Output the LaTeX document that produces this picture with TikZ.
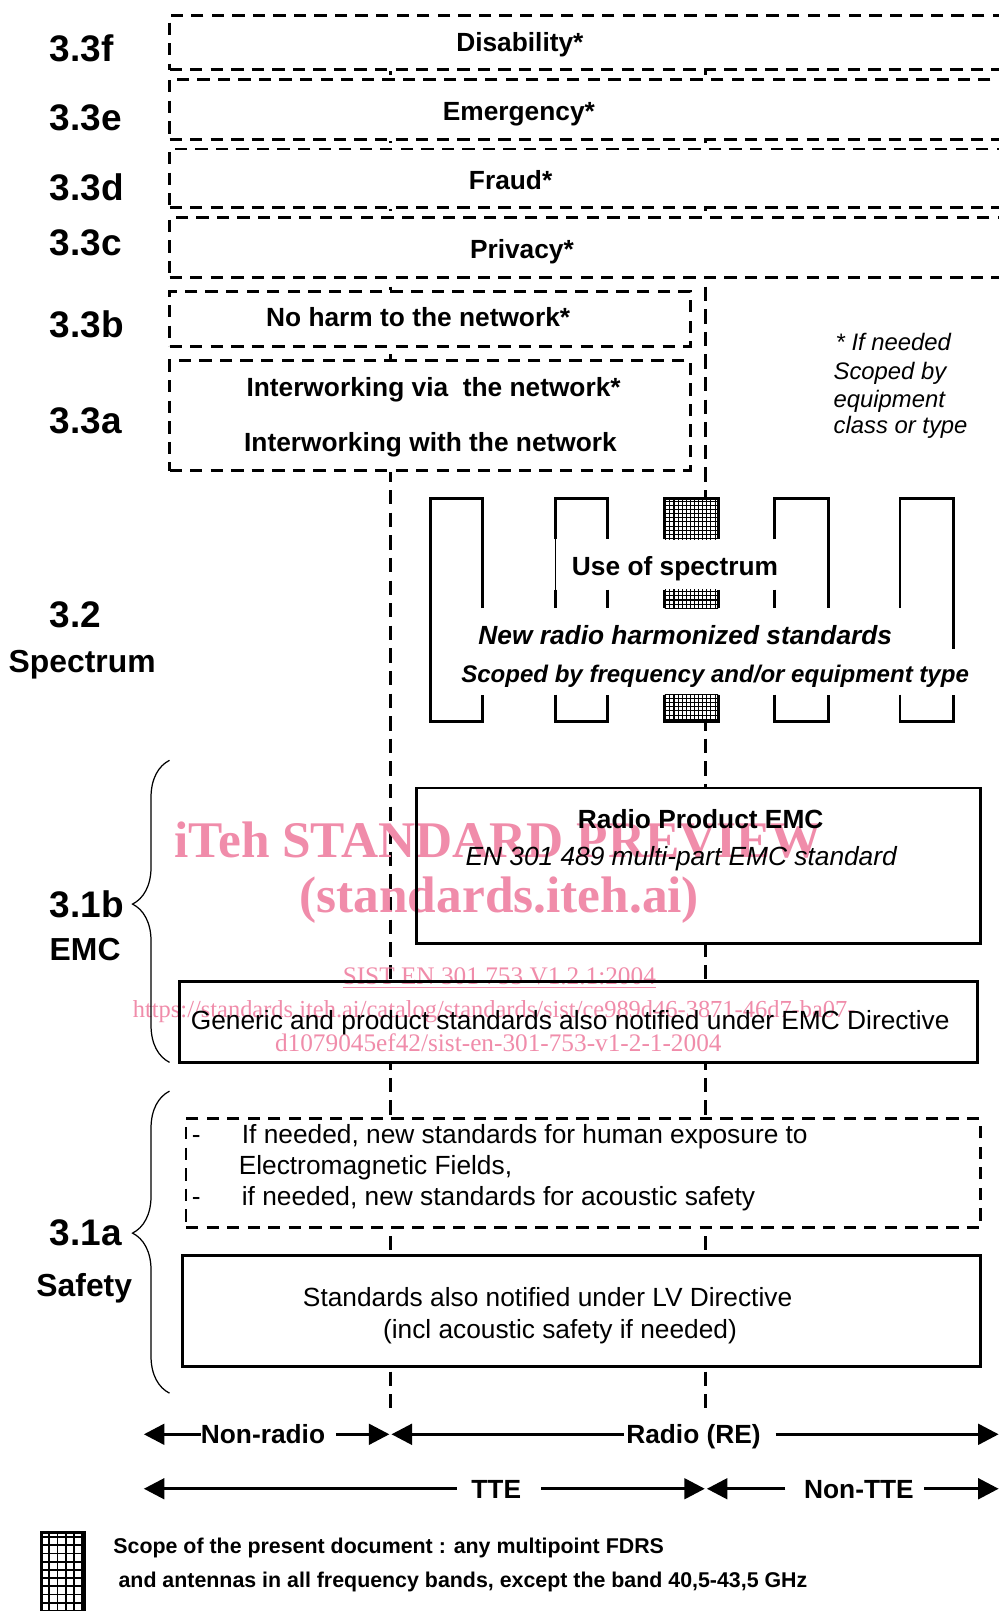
\documentclass[tikz,border=0pt]{standalone}
\usepackage{fontspec}
\setmainfont{Liberation Sans}
\newfontfamily\wmfont{Liberation Serif}
\usetikzlibrary{arrows.meta,decorations.pathreplacing,fit,patterns}
\definecolor{wmpink}{RGB}{240,140,170}
\pgfdeclarelayer{vlines}
\pgfdeclarelayer{fills}
\pgfdeclarelayer{wmark}
\pgfsetlayers{vlines,fills,wmark,main}
\pgfdeclarepatternformonly{fgrid}{\pgfqpoint{-1pt}{-1pt}}{\pgfqpoint{3pt}{3pt}}{\pgfqpoint{2pt}{2pt}}{%
  \pgfsetlinewidth{0.5pt}%
  \pgfpathmoveto{\pgfqpoint{0pt}{0pt}}\pgfpathlineto{\pgfqpoint{0pt}{2.1pt}}%
  \pgfpathmoveto{\pgfqpoint{0pt}{0pt}}\pgfpathlineto{\pgfqpoint{2.1pt}{0pt}}%
  \pgfusepath{stroke}}
\pgfdeclarepatternformonly{cgrid}{\pgfqpoint{-1pt}{-1pt}}{\pgfqpoint{5pt}{5pt}}{\pgfqpoint{4pt}{4pt}}{%
  \pgfsetlinewidth{0.9pt}%
  \pgfpathmoveto{\pgfqpoint{0pt}{0pt}}\pgfpathlineto{\pgfqpoint{0pt}{4.1pt}}%
  \pgfpathmoveto{\pgfqpoint{0pt}{0pt}}\pgfpathlineto{\pgfqpoint{4.1pt}{0pt}}%
  \pgfusepath{stroke}}
\tikzset{
  dbox/.style={draw, line width=1.4pt, dash pattern=on 6pt off 4pt, inner sep=0pt},
  sbox/.style={draw, line width=1.4pt, inner sep=0pt},
  vdash/.style={line width=1.4pt, dash pattern=on 7pt off 4pt},
  tooth/.style={line width=1.4pt},
  thin/.style={line width=0.4pt},
  bt/.style={font=\fontsize{12.8}{15}\selectfont\bfseries, inner sep=0pt, text height=9.2pt, text depth=0pt},
  bit/.style={font=\fontsize{12.8}{15}\selectfont\bfseries\itshape, inner sep=0pt, text height=9.2pt, text depth=0pt},
  rt/.style={font=\fontsize{12.8}{15}\selectfont, inner sep=0pt, text height=9.2pt, text depth=0pt},
  it/.style={font=\fontsize{12.8}{15}\selectfont\itshape, inner sep=0pt, text height=9.2pt, text depth=0pt},
  sec/.style={font=\fontsize{18}{20}\selectfont\bfseries, inner sep=0pt, anchor=west},
  secw/.style={font=\fontsize{15.5}{18}\selectfont\bfseries, inner sep=0pt, text height=11.1pt, text depth=0pt},
  note/.style={font=\fontsize{11.6}{14}\selectfont\itshape, inner sep=0pt, anchor=west, text height=8.3pt, text depth=0pt},
  legt/.style={font=\fontsize{10.4}{12}\selectfont\bfseries, inner sep=0pt, anchor=west, text height=7.4pt, text depth=0pt},
  wmbig/.style={text=wmpink, inner sep=0pt, font=\wmfont\fontsize{25}{28}\selectfont\bfseries},
  wmsmall/.style={text=wmpink, inner sep=0pt, font=\wmfont\fontsize{12.3}{14}\selectfont},
  arr/.style={line width=1.6pt, -{Triangle[length=10pt,width=10pt]}},
  brc/.style={decorate, decoration={brace, amplitude=18pt, aspect=#1}, line width=0.6pt},
}
\begin{document}
\begin{tikzpicture}[x=0.5pt,y=-0.5pt]
\useasboundingbox (0,0) rectangle (972,1568);

% ---- section labels
\node[sec] (l33f) at (48,47) {3.3f};
\node[sec] (l33e) at (48,115) {3.3e};
\node[sec] (l33d) at (48,182) {3.3d};
\node[sec] (l33c) at (48,236) {3.3c};
\node[sec] (l33b) at (48,316) {3.3b};
\node[sec] (l33a) at (48,410) {3.3a};
\node[sec] (l32) at (48,598) {3.2};
\node[secw] (lspec) at (80,643) {Spectrum};
\node[sec] (l31b) at (48,880) {3.1b};
\node[secw,anchor=west] (lemc) at (48,924) {EMC};
\node[sec] (l31a) at (48,1200) {3.1a};
\node[secw] (lsaf) at (82,1251) {Safety};

% ---- vertical dashed lines
\coordinate (va1) at (380,15); \coordinate (va2) at (380,1370);
\coordinate (vb1) at (687,15); \coordinate (vb2) at (687,1370);
\begin{pgfonlayer}{vlines}
  \draw[vdash] (va1) -- (va2);
  \draw[vdash] (vb1) -- (vb2);
\end{pgfonlayer}

% ---- top dashed boxes
\node[dbox, fit={(165,15)(995,68)}] (dis) {};
\node[dbox, fit={(165,77)(995,136)}] (emg) {};
\node[dbox, fit={(165,145)(995,202)}] (fra) {};
\node[dbox, fit={(165,212)(995,270)}] (pri) {};
\node[bt] (tdis) at (506,41) {Disability*};
\node[bt] (temg) at (505,108) {Emergency*};
\node[bt] (tfra) at (497,175) {Fraud*};
\node[bt] (tpri) at (508,242) {Privacy*};

\node[dbox, fit={(165,284)(672,337)}] (nh) {};
\node[bt] (tnh) at (407,309) {No harm to the network*};
\node[dbox, fit={(165,351)(672,458)}] (iw) {};
\node[bt] (tiw1) at (422,377) {Interworking via\ \ the network*};
\node[bt] (tiw2) at (419,430) {Interworking with the network};

% ---- side note
\node[note] (n1) at (813,333) {* If needed};
\node[note] (n2) at (811,361) {Scoped by};
\node[note] (n3) at (811,388) {equipment};
\node[note] (n4) at (811,414) {class or type};

% ---- spectrum comb
\draw[tooth] (470,592) -- (470,485) -- (419,485) -- (419,702) -- (470,702) -- (470,676);
\draw[tooth] (541,525) -- (541,485) -- (591,485) -- (591,525);
\draw[thin] (541,525) -- (541,574);
\draw[tooth] (541,574) -- (541,592); \draw[tooth] (591,574) -- (591,592);
\draw[tooth] (541,676) -- (541,702) -- (591,702) -- (591,676);
\fill[pattern=fgrid] (647,485) rectangle (699,525);
\fill[pattern=fgrid] (647,574) rectangle (699,592);
\fill[pattern=fgrid] (647,676) rectangle (699,702);
\draw[tooth] (647,525) -- (647,485) -- (699,485) -- (699,525);
\draw[tooth] (647,574) -- (647,592); \draw[tooth] (699,574) -- (699,592);
\draw[tooth] (647,676) -- (647,702) -- (699,702) -- (699,676);
\draw[tooth] (754,525) -- (754,485) -- (806,485) -- (806,592);
\draw[tooth] (754,574) -- (754,592);
\draw[tooth] (754,676) -- (754,702) -- (806,702) -- (806,676);
\draw[tooth] (876,592) -- (876,485) -- (928,485) -- (928,632);
\draw[tooth] (876,676) -- (876,702) -- (928,702) -- (928,676);
\node[bt] (tuse) at (657,551) {Use of spectrum};
\node[bit] (tnew) at (667,618) {New radio harmonized standards};
\node[bit, font=\fontsize{11.7}{14}\selectfont\bfseries\itshape, text height=8.4pt] (tscp) at (696,656) {Scoped by frequency and/or equipment type};

% ---- EMC
\node[sbox, fit={(405,767)(954,918)}] (rpe) {};
\node[bt] (trpe1) at (682,797) {Radio Product EMC};
\node[it] (trpe2) at (663,833) {EN 301 489 multi-part EMC standard};
\node[sbox, fit={(175,955)(951,1034)}] (gen) {};
\node[rt] (tgen) at (555,993) {Generic and product standards also notified under EMC Directive};
\draw[brc=0.524] (165,1034) -- (165,740);

% ---- Safety
\node[dbox, fit={(181,1089)(954,1195)}] (saf) {};
\node[rt] (ds1) at (191,1104) {-};
\node[rt, anchor=west] (ts1) at (235,1104) {If needed, new standards for human exposure to};
\node[rt, anchor=west] (ts2) at (232,1134) {Electromagnetic Fields,};
\node[rt] (ds2) at (191,1164) {-};
\node[rt, anchor=west] (ts3) at (235,1164) {if needed, new standards for acoustic safety};
\node[sbox, fit={(178,1222)(954,1330)}] (lv) {};
\node[rt] (tlv1) at (533,1262) {Standards also notified under LV Directive};
\node[rt] (tlv2) at (545,1294) {(incl acoustic safety if needed)};
\draw[brc=0.53] (165,1356) -- (165,1062);

% ---- fills behind boxes
\begin{pgfonlayer}{fills}
  \foreach \n in {dis,emg,fra,pri,nh,iw,rpe,gen,saf,lv}
    \fill[white] (\n.north west) rectangle (\n.south east);
  \fill[white] (647,485) rectangle (699,702);
\end{pgfonlayer}

% ---- arrows
\node[bt] (nonradio) at (256,1396) {Non-radio};
\coordinate (nrL) at (140,1396); \coordinate (nrR) at (379,1396);
\draw[arr] (nonradio.west) -- (nrL);
\draw[arr] ([xshift=5pt]nonradio.east) -- (nrR);
\node[bt] (radio) at (675,1396) {Radio (RE)};
\coordinate (rL) at (381,1396); \coordinate (rR) at (972,1396);
\draw[arr] ([xshift=-1pt]radio.west) -- (rL);
\draw[arr] ([xshift=7pt]radio.east) -- (rR);
\node[bt] (tte) at (483,1449) {TTE};
\coordinate (tL) at (140,1449); \coordinate (tR) at (686,1449);
\draw[arr] ([xshift=-7pt]tte.west) -- (tL);
\draw[arr] ([xshift=9.5pt]tte.east) -- (tR);
\node[bt] (ntte) at (836,1449) {Non-TTE};
\coordinate (ntL) at (688,1449); \coordinate (ntR) at (972,1449);
\draw[arr] ([xshift=-9pt]ntte.west) -- (ntL);
\draw[arr] ([xshift=5pt]ntte.east) -- (ntR);

% ---- legend
\fill[white] (40,1492) rectangle (82,1580);
\fill[pattern=cgrid] (40,1492) rectangle (82,1580);
\draw[tooth] (40,1580) -- (40,1492) -- (82,1492) -- (82,1580);
\node[legt] (lg1) at (110,1505) {Scope of the present document : any multipoint FDRS};
\node[legt] (lg2) at (115,1538) {and antennas in all frequency bands, except the band 40,5-43,5 GHz};

% ---- watermark
\begin{pgfonlayer}{wmark}
  \node[wmbig] (wm1) at (485,818) {iTeh STANDARD PREVIEW};
  \node[wmbig] (wm2) at (486,876) {(standards.iteh.ai)};
  \node[wmsmall] (wm3) at (486,952) {\underline{SIST EN 301 753 V1.2.1:2004}};
  \node[wmsmall, font=\wmfont\fontsize{11.9}{14}\selectfont] (wm4) at (481,985) {https://standards.iteh.ai/catalog/standards/sist/ce989d46-3871-46d7-ba07-};
  \node[wmsmall] (wm5) at (485,1015) {d1079045ef42/sist-en-301-753-v1-2-1-2004};
\end{pgfonlayer}
\end{tikzpicture}
\end{document}
